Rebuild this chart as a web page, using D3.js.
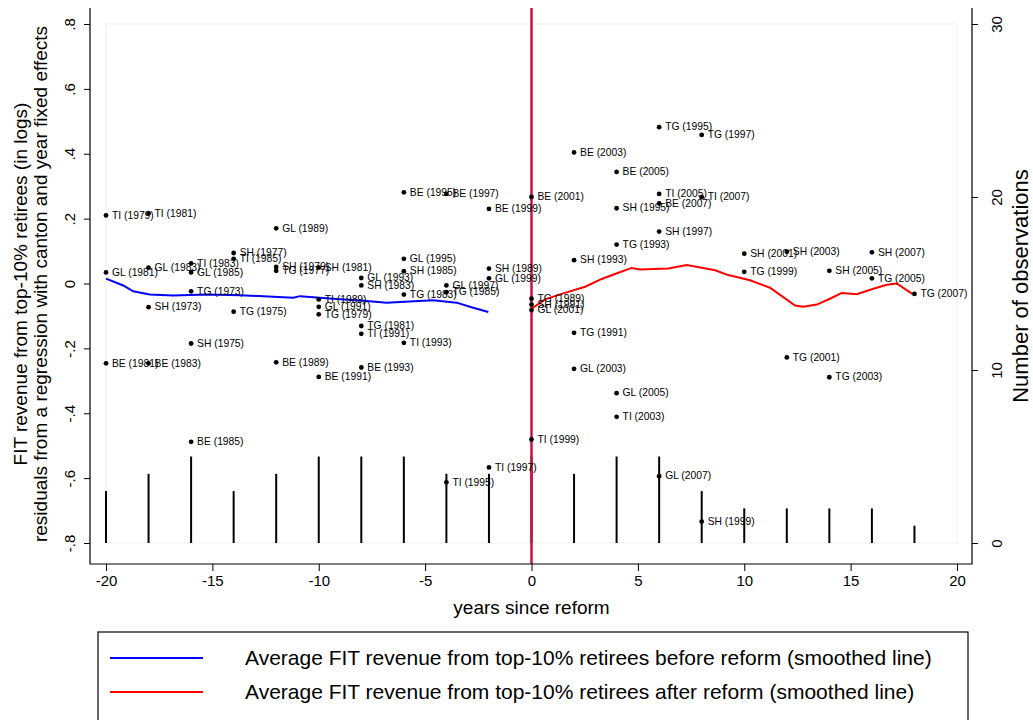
<!DOCTYPE html>
<html lang="en">
<head>
  <meta charset="UTF-8" />
  <title>FIT revenue from top-10% retirees</title>
  <script src="https://d3js.org/d3.v7.min.js"></script>
  <style>
    html, body {
      margin: 0;
      padding: 0;
      background: #ffffff;
      overflow: hidden;
    }
    svg {
      display: block;
      font-family: Arial, 'Liberation Sans', sans-serif;
    }
    .ptlabel {
      font-size: 10.3px;
      fill: #000;
      dominant-baseline: middle;
    }
    .tick text {
      font-size: 15px;
      fill: #000;
    }
    .title {
      font-size: 19px;
      fill: #000;
    }
    .legtext {
      font-size: 21px;
      fill: #000;
      dominant-baseline: middle;
    }
  </style>
</head>
<body>
<svg width="1033" height="720"></svg>
<script>
// scatter points: residuals by canton-year
const pointLabels = [
  "TI (1979)", "GL (1981)", "BE (1981)",
  "TI (1981)", "GL (1983)", "SH (1973)", "BE (1983)",
  "TI (1983)", "GL (1985)", "TG (1973)", "SH (1975)", "BE (1985)",
  "SH (1977)", "TI (1985)", "TG (1975)",
  "GL (1989)", "SH (1979)", "TG (1977)", "BE (1989)",
  "SH (1981)", "TI (1989)", "GL (1991)", "TG (1979)", "BE (1991)",
  "GL (1993)", "SH (1983)", "TG (1981)", "TI (1991)", "BE (1993)",
  "BE (1995)", "GL (1995)", "SH (1985)", "TG (1983)", "TI (1993)",
  "BE (1997)", "GL (1997)", "TG (1985)", "TI (1995)",
  "BE (1999)", "SH (1989)", "GL (1999)", "TI (1997)",
  "BE (2001)", "TG (1989)", "SH (1991)", "GL (2001)", "TI (1999)",
  "BE (2003)", "SH (1993)", "TG (1991)", "GL (2003)",
  "BE (2005)", "SH (1995)", "TG (1993)", "GL (2005)", "TI (2003)",
  "TG (1995)", "TI (2005)", "BE (2007)", "SH (1997)", "GL (2007)",
  "TG (1997)", "TI (2007)", "SH (1999)",
  "SH (2001)", "TG (1999)",
  "SH (2003)", "TG (2001)",
  "SH (2005)", "TG (2003)",
  "SH (2007)", "TG (2005)",
  "TG (2007)"
];
const pointYears = [
  -20, -20, -20,
  -18, -18, -18, -18,
  -16, -16, -16, -16, -16,
  -14, -14, -14,
  -12, -12, -12, -12,
  -10, -10, -10, -10, -10,
  -8, -8, -8, -8, -8,
  -6, -6, -6, -6, -6,
  -4, -4, -4, -4,
  -2, -2, -2, -2,
  0, 0, 0, 0, 0,
  2, 2, 2, 2,
  4, 4, 4, 4, 4,
  6, 6, 6, 6, 6,
  8, 8, 8,
  10, 10,
  12, 12,
  14, 14,
  16, 16,
  18
];
const pointResid = [
  0.210, 0.034, -0.246,
  0.216, 0.049, -0.073, -0.246,
  0.062, 0.034, -0.024, -0.185, -0.488,
  0.094, 0.076, -0.087,
  0.170, 0.051, 0.039, -0.243,
  0.049, -0.049, -0.072, -0.095, -0.288,
  0.017, -0.006, -0.131, -0.155, -0.259,
  0.281, 0.076, 0.038, -0.034, -0.183,
  0.276, -0.006, -0.027, -0.613,
  0.230, 0.046, 0.016, -0.567,
  0.267, -0.047, -0.065, -0.082, -0.481,
  0.404, 0.072, -0.152, -0.263,
  0.344, 0.232, 0.120, -0.338, -0.411,
  0.482, 0.276, 0.247, 0.160, -0.594,
  0.458, 0.266, -0.734,
  0.092, 0.036,
  0.098, -0.228,
  0.039, -0.289,
  0.096, 0.016,
  -0.032
];

// number of observations per year since reform
const obsYears  = [-20, -18, -16, -14, -12, -10, -8, -6, -4, -2, 0, 2, 4, 6, 8, 10, 12, 14, 16, 18];
const obsCounts = [3, 4, 5, 3, 4, 5, 5, 5, 4, 4, 5, 4, 5, 5, 3, 2, 2, 2, 2, 1];

// smoothed lines
const beforeX = [-20, -19.19, -18.72, -17.94, -16.84, -15.27, -13.70, -12.14, -11.2, -10.88, -9.32, -7.75, -6.81, -6.18, -4.62, -3.52, -2.74, -2.03];
const beforeY = [0.015, -0.006, -0.024, -0.034, -0.037, -0.034, -0.036, -0.041, -0.044, -0.039, -0.047, -0.054, -0.059, -0.057, -0.052, -0.059, -0.075, -0.088];
const afterX = [0, 0.63, 1.57, 2.52, 3.30, 4.08, 4.71, 5.10, 6.43, 7.30, 8.63, 9.25, 10.27, 11.21, 12.39, 12.78, 13.41, 14.03, 14.58, 15.29, 16.07, 16.70, 17.17, 17.90];
const afterY = [-0.078, -0.049, -0.029, -0.010, 0.014, 0.033, 0.048, 0.043, 0.046, 0.057, 0.041, 0.026, 0.010, -0.013, -0.068, -0.072, -0.065, -0.047, -0.029, -0.033, -0.016, -0.004, 0.000, -0.032];

const xTicks = [-20, -15, -10, -5, 0, 5, 10, 15, 20];
const yTicks = [-0.8, -0.6, -0.4, -0.2, 0, 0.2, 0.4, 0.6, 0.8];
const y2Ticks = [0, 10, 20, 30];

const legendLabels = [
  "Average FIT revenue from top-10% retirees before reform (smoothed line)",
  "Average FIT revenue from top-10% retirees after reform (smoothed line)"
];
const legendColors = ["#0000ff", "#ff0000"];

const svg = d3.select("svg");

const axLeft = 90, axRight = 972, axTop = 8, axBottom = 564;
const x = d3.scaleLinear().domain([-20, 20]).range([106, 957]);
const y = d3.scaleLinear().domain([-0.8, 0.8]).range([543, 24]);
const y2 = d3.scaleLinear().domain([0, 30]).range([543, 24]);

// faint plot region border
svg.append("rect")
  .attr("x", x(-20)).attr("y", y(0.8))
  .attr("width", x(20) - x(-20)).attr("height", y(-0.8) - y(0.8))
  .attr("fill", "none")
  .attr("stroke", "#eaf2f3")
  .attr("stroke-width", 1);

// observation bars
svg.append("g").selectAll("line")
  .data(obsYears)
  .enter()
  .append("line")
  .attr("x1", d => x(d)).attr("x2", d => x(d))
  .attr("y1", y2(0))
  .attr("y2", (d, i) => y2(obsCounts[i]))
  .attr("stroke", "#000")
  .attr("stroke-width", 2);

// reform line
svg.append("line")
  .attr("x1", x(0)).attr("x2", x(0))
  .attr("y1", axTop).attr("y2", axBottom)
  .attr("stroke", "#c8143c")
  .attr("stroke-width", 2.5);

// smoothed lines
const line = d3.line().x(d => x(d[0])).y(d => y(d[1]));
svg.append("path")
  .datum(beforeX.map((v, i) => [v, beforeY[i]]))
  .attr("d", line)
  .attr("fill", "none")
  .attr("stroke", legendColors[0])
  .attr("stroke-width", 2);
svg.append("path")
  .datum(afterX.map((v, i) => [v, afterY[i]]))
  .attr("d", line)
  .attr("fill", "none")
  .attr("stroke", legendColors[1])
  .attr("stroke-width", 2);

// scatter points with labels
const pts = svg.append("g").selectAll("g")
  .data(pointLabels)
  .enter()
  .append("g")
  .attr("transform", (d, i) => `translate(${x(pointYears[i])},${y(pointResid[i])})`);
pts.append("circle").attr("r", 2.4).attr("fill", "#000");
pts.append("text").attr("class", "ptlabel").attr("x", 6).attr("y", 0.5).text(d => d);

// axes (Stata style: hyphen minus, no leading zero)
const fmt = d => d === 0 ? "0" : (d < 0 ? "-" : "") + Math.abs(d).toFixed(1).replace(/^0/, "");

const gx = svg.append("g")
  .attr("transform", `translate(0,${axBottom})`)
  .call(d3.axisBottom(x).tickValues(xTicks).tickSize(7).tickFormat(d => String(d)));
gx.select(".domain").remove();
gx.selectAll(".tick text").attr("y", 11);

const gy = svg.append("g")
  .attr("transform", `translate(${axLeft},0)`)
  .call(d3.axisLeft(y).tickValues(yTicks).tickSize(6).tickFormat(fmt));
gy.select(".domain").remove();
gy.selectAll(".tick text")
  .attr("transform", "rotate(-90)")
  .attr("x", 0).attr("y", -15).attr("dy", 0)
  .attr("text-anchor", "middle");

const gy2 = svg.append("g")
  .attr("transform", `translate(${axRight},0)`)
  .call(d3.axisRight(y2).tickValues(y2Ticks).tickSize(6));
gy2.select(".domain").remove();
gy2.selectAll(".tick text")
  .attr("transform", "rotate(-90)")
  .attr("x", 0).attr("y", 30).attr("dy", 0)
  .attr("text-anchor", "middle");

svg.selectAll(".tick line").attr("stroke", "#000");

// axis lines
svg.append("path")
  .attr("d", `M${axLeft},${axTop}V${axBottom}H${axRight}V${axTop}`)
  .attr("fill", "none")
  .attr("stroke", "#000")
  .attr("stroke-width", 1.2);

// titles
svg.append("text").attr("class", "title")
  .attr("x", (x(-20) + x(20)) / 2).attr("y", 614)
  .attr("text-anchor", "middle")
  .text("years since reform");

svg.append("text").attr("class", "title")
  .attr("transform", `translate(27,284) rotate(-90)`)
  .attr("text-anchor", "middle")
  .text("FIT revenue from top-10% retirees (in logs)");
svg.append("text").attr("class", "title")
  .attr("transform", `translate(47,284) rotate(-90)`)
  .attr("text-anchor", "middle")
  .text("residuals from a regression with canton and year fixed effects");

svg.append("text").attr("class", "title")
  .style("font-size", "22px")
  .attr("transform", `translate(1028,286) rotate(-90)`)
  .attr("text-anchor", "middle")
  .text("Number of observations");

// legend
svg.append("rect")
  .attr("x", 98).attr("y", 632)
  .attr("width", 870).attr("height", 90)
  .attr("fill", "#fff")
  .attr("stroke", "#000")
  .attr("stroke-width", 1.2);

const leg = svg.append("g").selectAll("g")
  .data(legendLabels)
  .enter()
  .append("g")
  .attr("transform", (d, i) => `translate(0,${658 + i * 34})`);
leg.append("line")
  .attr("x1", 110).attr("x2", 203)
  .attr("stroke", (d, i) => legendColors[i])
  .attr("stroke-width", 2);
leg.append("text").attr("class", "legtext")
  .attr("x", 245).attr("y", 1)
  .text(d => d);
</script>
</body>
</html>
